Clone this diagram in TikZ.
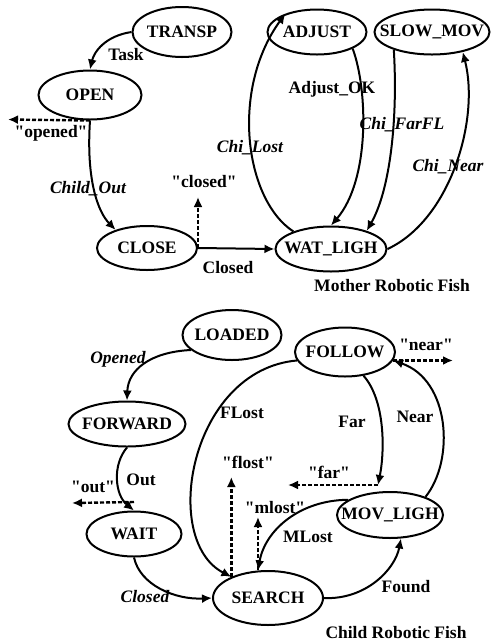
\documentclass[tikz,border=0pt]{standalone}
\usepackage{fontspec}
\setmainfont{Liberation Serif}[Ligatures=TeXOff]
\usetikzlibrary{shapes.geometric,arrows.meta}
\tikzset{
	fstate/.style={ellipse, draw, line width=1pt, inner sep=0pt},
	trans/.style={line width=1pt, -{Latex[length=5pt,width=4.5pt]}},
	signal/.style={trans, line width=1.2pt, dash pattern=on 2pt off 1pt},
}
\newcommand{\sname}[1]{\makebox[0pt]{#1}}

\begin{document}
\begin{tikzpicture}[x=0.5pt,y=-0.5pt,font=\fontsize{8.75}{10}\selectfont\bfseries]
	\useasboundingbox (0,0) rectangle (494,644);
	% mother fish
	\node[fstate,minimum width=49.5pt,minimum height=25pt] (transp) at (182,32) {\sname{TRANSP}};
	\node[fstate,minimum width=51.5pt,minimum height=24.5pt] (open) at (90,95) {\sname{OPEN}};
	\node[fstate,minimum width=50pt,minimum height=22pt] (close) at (147,248) {\sname{CLOSE}};
	\node[fstate,minimum width=49.5pt,minimum height=22.5pt] (adjust) at (317,32) {\sname{ADJUST}};
	\node[fstate,minimum width=57.5pt,minimum height=22.5pt] (slowmov) at (432,32) {\sname{SLOW\_MOV}};
	\node[fstate,minimum width=55.5pt,minimum height=22.5pt] (watligh) at (331,249) {\sname{WAT\_LIGH}};
	\coordinate (openedEnd) at (8,119.5);
	\coordinate (closedEnd) at (197,197);

	\draw[trans] (transp.west) .. controls (105,36) and (94,52) .. (open.north);
	\draw[trans] (open.south) .. controls (86,180) and (98,212) .. (close.150);
	\draw[signal] (open.south) -- (openedEnd);
	\draw[signal] (close.east) -- (close.east |- closedEnd);
	\draw[trans] (close.east) -- (watligh.west);
	\draw[trans] (watligh.155) .. controls (245,200) and (230,90) .. (adjust.150);
	\draw[trans] (adjust.-25) .. controls (368,90) and (370,180) .. (watligh.north);
	\draw[trans] (slowmov.-155) .. controls (398,120) and (390,190) .. (watligh.27);
	\draw[trans] (watligh.east) .. controls (450,220) and (480,120) .. (slowmov.-33);

	\node (lTask) at (126,55) {Task};
	\node (lChildOut) at (88,189) {\itshape Child\_Out};
	\node (lOpened) at (51,133) {"opened"};
	\node (lClosedSig) at (204,182) {"closed"};
	\node (lClosed) at (228,268) {Closed};
	\node (lChiLost) at (250,148) {\itshape Chi\_Lost};
	\node (lAdjustOK) at (332,89) {Adjust\_OK};
	\node (lChiFarFL) at (402,125) {\itshape Chi\_FarFL};
	\node (lChiNear) at (448,167) {\itshape Chi\_Near};
	\node (lMother) at (392,286) {Mother Robotic Fish};

	% child fish
	\node[fstate,minimum width=49.5pt,minimum height=25pt] (loaded) at (232,335) {\sname{LOADED}};
	\node[fstate,minimum width=58.5pt,minimum height=22.5pt] (forward) at (127,424) {\sname{FORWARD}};
	\node[fstate,minimum width=47.5pt,minimum height=22.5pt] (wait) at (134,534) {\sname{WAIT}};
	\node[fstate,minimum width=55pt,minimum height=27pt] (search) at (268,598) {\sname{SEARCH}};
	\node[fstate,minimum width=50pt,minimum height=24.5pt] (follow) at (345,352) {\sname{FOLLOW}};
	\node[fstate,minimum width=53pt,minimum height=23pt] (movligh) at (390,515) {\sname{MOV\_LIGH}};
	\coordinate (outEnd) at (72,503);
	\coordinate (flostEnd) at (232,477);
	\coordinate (farAt) at (378,485);
	\coordinate (farEnd) at (288,485);
	\coordinate (nearEnd) at (453,357);
	\coordinate (mlostEnd) at (258,517);

	\draw[trans] (loaded.-160) .. controls (150,352) and (128,370) .. (forward.north);
	\draw[trans] (forward.south) .. controls (112,465) and (115,495) .. (wait.north);
	\draw[signal] ([yshift=4.25pt]wait.north) -- (outEnd);
	\draw[trans] (wait.south) .. controls (140,585) and (175,600) .. (search.west);
	\draw[trans] (follow.-170) .. controls (190,370) and (160,540) .. (search.150);
	\draw[signal] (search.150) -- (search.150 |- flostEnd);
	\draw[trans] (follow.-52) .. controls (385,400) and (385,450) .. (farAt);
	\draw[signal] (farAt) -- (farEnd);
	\draw[trans] (movligh.27) .. controls (455,460) and (450,380) .. (follow.-10);
	\draw[signal] (follow.-10) -- (follow.-10 -| nearEnd);
	\draw[trans] (movligh.160) .. controls (300,500) and (265,530) .. (search.110);
	\draw[signal] (search.110) -- (search.110 |- mlostEnd);
	\draw[trans] (search.east) .. controls (365,600) and (395,570) .. (movligh.-65);

	\node (lOpenedT) at (118,359) {\itshape Opened};
	\node (lOut) at (141,480) {Out};
	\node (lOutSig) at (93,487) {"out"};
	\node (lClosedT) at (145,597) {\itshape Closed};
	\node (lFLost) at (242,413) {FLost};
	\node (lFlostSig) at (248,462) {"flost"};
	\node (lFar) at (352,422) {Far};
	\node (lFarSig) at (329,472) {"far"};
	\node (lNear) at (415,417) {Near};
	\node (lNearSig) at (426,345) {"near"};
	\node (lMLost) at (308,537) {MLost};
	\node (lMlostSig) at (275,508) {"mlost"};
	\node (lFound) at (406,587) {Found};
	\node (lChild) at (396,633) {Child Robotic Fish};
\end{tikzpicture}
\end{document}
